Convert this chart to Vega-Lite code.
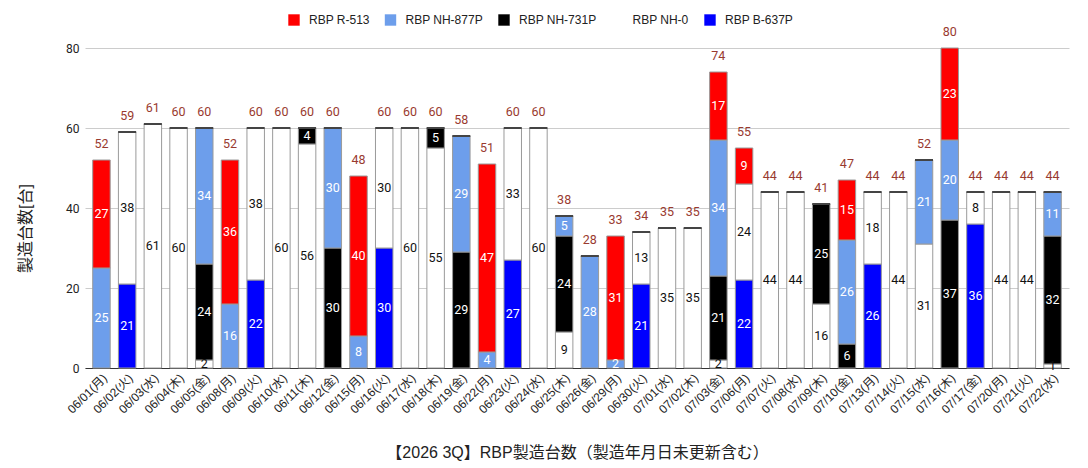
{
  "$schema": "https://vega.github.io/schema/vega-lite/v6.json",
  "width": 984,
  "height": 320,
  "autosize": {"type": "none"},
  "padding": {"left": 85, "top": 48, "right": 19, "bottom": 100},
  "background": "white",
  "config": {
    "view": {"stroke": null},
    "font": "Roboto",
    "axis": {"labelFont": "Roboto", "titleFont": "Liberation Sans, Noto Sans CJK JP"}
  },
  "data": {
    "values": [
      {"date": "06/01(月)", "series": "RBP NH-877P", "value": 25},
      {"date": "06/01(月)", "series": "RBP R-513", "value": 27},
      {"date": "06/02(火)", "series": "RBP B-637P", "value": 21},
      {"date": "06/02(火)", "series": "RBP NH-0", "value": 38},
      {"date": "06/03(水)", "series": "RBP NH-0", "value": 61},
      {"date": "06/04(木)", "series": "RBP NH-0", "value": 60},
      {"date": "06/05(金)", "series": "RBP NH-0", "value": 2},
      {"date": "06/05(金)", "series": "RBP NH-731P", "value": 24},
      {"date": "06/05(金)", "series": "RBP NH-877P", "value": 34},
      {"date": "06/08(月)", "series": "RBP NH-877P", "value": 16},
      {"date": "06/08(月)", "series": "RBP R-513", "value": 36},
      {"date": "06/09(火)", "series": "RBP B-637P", "value": 22},
      {"date": "06/09(火)", "series": "RBP NH-0", "value": 38},
      {"date": "06/10(水)", "series": "RBP NH-0", "value": 60},
      {"date": "06/11(木)", "series": "RBP NH-0", "value": 56},
      {"date": "06/11(木)", "series": "RBP NH-731P", "value": 4},
      {"date": "06/12(金)", "series": "RBP NH-731P", "value": 30},
      {"date": "06/12(金)", "series": "RBP NH-877P", "value": 30},
      {"date": "06/15(月)", "series": "RBP NH-877P", "value": 8},
      {"date": "06/15(月)", "series": "RBP R-513", "value": 40},
      {"date": "06/16(火)", "series": "RBP B-637P", "value": 30},
      {"date": "06/16(火)", "series": "RBP NH-0", "value": 30},
      {"date": "06/17(水)", "series": "RBP NH-0", "value": 60},
      {"date": "06/18(木)", "series": "RBP NH-0", "value": 55},
      {"date": "06/18(木)", "series": "RBP NH-731P", "value": 5},
      {"date": "06/19(金)", "series": "RBP NH-731P", "value": 29},
      {"date": "06/19(金)", "series": "RBP NH-877P", "value": 29},
      {"date": "06/22(月)", "series": "RBP NH-877P", "value": 4},
      {"date": "06/22(月)", "series": "RBP R-513", "value": 47},
      {"date": "06/23(火)", "series": "RBP B-637P", "value": 27},
      {"date": "06/23(火)", "series": "RBP NH-0", "value": 33},
      {"date": "06/24(水)", "series": "RBP NH-0", "value": 60},
      {"date": "06/25(木)", "series": "RBP NH-0", "value": 9},
      {"date": "06/25(木)", "series": "RBP NH-731P", "value": 24},
      {"date": "06/25(木)", "series": "RBP NH-877P", "value": 5},
      {"date": "06/26(金)", "series": "RBP NH-877P", "value": 28},
      {"date": "06/29(月)", "series": "RBP NH-877P", "value": 2},
      {"date": "06/29(月)", "series": "RBP R-513", "value": 31},
      {"date": "06/30(火)", "series": "RBP B-637P", "value": 21},
      {"date": "06/30(火)", "series": "RBP NH-0", "value": 13},
      {"date": "07/01(水)", "series": "RBP NH-0", "value": 35},
      {"date": "07/02(木)", "series": "RBP NH-0", "value": 35},
      {"date": "07/03(金)", "series": "RBP NH-0", "value": 2},
      {"date": "07/03(金)", "series": "RBP NH-731P", "value": 21},
      {"date": "07/03(金)", "series": "RBP NH-877P", "value": 34},
      {"date": "07/03(金)", "series": "RBP R-513", "value": 17},
      {"date": "07/06(月)", "series": "RBP B-637P", "value": 22},
      {"date": "07/06(月)", "series": "RBP NH-0", "value": 24},
      {"date": "07/06(月)", "series": "RBP R-513", "value": 9},
      {"date": "07/07(火)", "series": "RBP NH-0", "value": 44},
      {"date": "07/08(水)", "series": "RBP NH-0", "value": 44},
      {"date": "07/09(木)", "series": "RBP NH-0", "value": 16},
      {"date": "07/09(木)", "series": "RBP NH-731P", "value": 25},
      {"date": "07/10(金)", "series": "RBP NH-731P", "value": 6},
      {"date": "07/10(金)", "series": "RBP NH-877P", "value": 26},
      {"date": "07/10(金)", "series": "RBP R-513", "value": 15},
      {"date": "07/13(月)", "series": "RBP B-637P", "value": 26},
      {"date": "07/13(月)", "series": "RBP NH-0", "value": 18},
      {"date": "07/14(火)", "series": "RBP NH-0", "value": 44},
      {"date": "07/15(水)", "series": "RBP NH-0", "value": 31},
      {"date": "07/15(水)", "series": "RBP NH-877P", "value": 21},
      {"date": "07/16(木)", "series": "RBP NH-731P", "value": 37},
      {"date": "07/16(木)", "series": "RBP NH-877P", "value": 20},
      {"date": "07/16(木)", "series": "RBP R-513", "value": 23},
      {"date": "07/17(金)", "series": "RBP B-637P", "value": 36},
      {"date": "07/17(金)", "series": "RBP NH-0", "value": 8},
      {"date": "07/20(月)", "series": "RBP NH-0", "value": 44},
      {"date": "07/21(火)", "series": "RBP NH-0", "value": 44},
      {"date": "07/22(水)", "series": "RBP NH-0", "value": 1},
      {"date": "07/22(水)", "series": "RBP NH-731P", "value": 32},
      {"date": "07/22(水)", "series": "RBP NH-877P", "value": 11}
    ]
  },
  "transform": [
    {"stack": "value", "groupby": ["date"], "sort": [{"field": "series", "order": "ascending"}], "as": ["y0", "y1"]},
    {"joinaggregate": [{"op": "max", "field": "y1", "as": "top"}], "groupby": ["date"]}
  ],
  "encoding": {
    "x": {
      "field": "date",
      "type": "nominal",
      "sort": null,
      "scale": {"paddingInner": 0.32, "paddingOuter": 0.3},
      "axis": {
        "title": "【2026 3Q】RBP製造台数（製造年月日未更新含む）",
        "titleFontSize": 16,
        "titleFontWeight": "normal",
        "titleColor": "#222222",
        "titleY": 84,
        "titleBaseline": "middle",
        "labelAngle": -45,
        "labelFont": "Liberation Sans, Noto Sans CJK JP",
        "labelFontSize": 12,
        "labelColor": "#222222",
        "labelPadding": 4,
        "ticks": false,
        "domain": true,
        "domainColor": "#333333",
        "labelOverlap": false
      }
    }
  },
  "layer": [
    {
      "mark": {"type": "bar", "stroke": "#9a9a9a", "strokeWidth": 1},
      "encoding": {
        "y": {
          "field": "y0",
          "type": "quantitative",
          "scale": {"domain": [0, 80]},
          "axis": {
            "title": "製造台数[台]",
            "titleFontSize": 16,
            "titleFontWeight": "normal",
            "titleColor": "#222222",
            "titleX": -60,
            "titleY": 180,
            "titleAlign": "center",
            "titleBaseline": "middle",
            "titleAngle": -90,
            "values": [0, 20, 40, 60, 80],
            "labelFontSize": 12,
            "labelColor": "#222222",
            "labelPadding": 6,
            "ticks": false,
            "domain": false,
            "gridColor": "#cccccc"
          }
        },
        "y2": {"field": "y1"},
        "color": {
          "field": "series",
          "type": "nominal",
          "sort": ["RBP R-513", "RBP NH-877P", "RBP NH-731P", "RBP NH-0", "RBP B-637P"],
          "scale": {
            "domain": ["RBP R-513", "RBP NH-877P", "RBP NH-731P", "RBP NH-0", "RBP B-637P"],
            "range": ["#ff0000", "#6d9eeb", "#000000", "#ffffff", "#0000ff"]
          },
          "legend": {
            "title": null,
            "orient": "none",
            "direction": "horizontal",
            "gridAlign": "none",
            "legendX": 203,
            "legendY": -34,
            "symbolType": "square",
            "symbolSize": 130,
            "symbolStrokeWidth": 0,
            "labelFont": "Liberation Sans",
            "labelFontSize": 12,
            "labelColor": "#222222",
            "labelOffset": 9,
            "columnPadding": 14.5
          }
        }
      }
    },
    {
      "transform": [
        {"filter": "datum.y1 === datum.top"},
        {"filter": "datum.series !== 'RBP R-513'"}
      ],
      "mark": {"type": "tick", "color": "#444444", "thickness": 2, "size": 18, "opacity": 1},
      "encoding": {
        "y": {"field": "top", "type": "quantitative"}
      }
    },
    {
      "transform": [
        {"calculate": "(datum.y0 + datum.y1) / 2", "as": "mid"}
      ],
      "mark": {"type": "text", "fontSize": 12.5, "baseline": "middle", "align": "center", "font": "Roboto"},
      "encoding": {
        "y": {"field": "mid", "type": "quantitative"},
        "text": {"field": "value", "type": "quantitative"},
        "color": {
          "condition": {"test": "datum.series === 'RBP NH-0'", "value": "#111111"},
          "value": "#ffffff"
        },
        "fontWeight": {
          "condition": {"test": "datum.series === 'RBP NH-0'", "value": "normal"},
          "value": "bold"
        }
      }
    },
    {
      "transform": [
        {"aggregate": [{"op": "sum", "field": "value", "as": "sumv"}], "groupby": ["date"]}
      ],
      "mark": {"type": "text", "fontSize": 12.5, "baseline": "bottom", "align": "center", "dy": -9, "color": "#993a2f", "font": "Roboto"},
      "encoding": {
        "y": {"field": "sumv", "type": "quantitative"},
        "text": {"field": "sumv", "type": "quantitative"}
      }
    }
  ]
}
